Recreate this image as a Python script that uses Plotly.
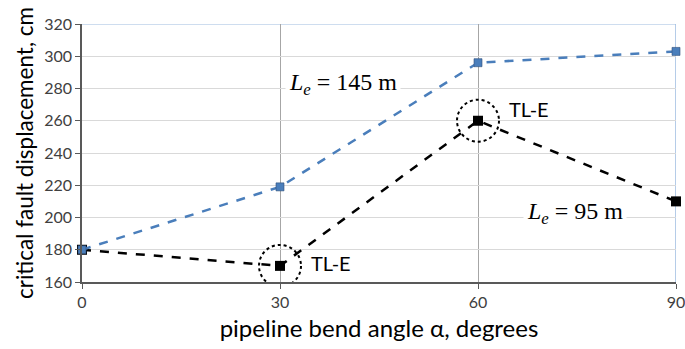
import plotly.graph_objects as go

# Pipeline bend angle (degrees) and critical fault displacement (cm)
angles = [0, 30, 60, 90]
disp_le145 = [180, 219, 296, 303]
disp_le95 = [180, 170, 260, 210]

# Points whose failure mode is tension-limited (TL-E)
tle_angles = [30, 60]
tle_disp = [170, 260]

y_ticks = [160, 180, 200, 220, 240, 260, 280, 300, 320]
x_ticks = [0, 30, 60, 90]

sans = "Lato, 'Liberation Sans', sans-serif"
serif = "'Liberation Serif', 'Times New Roman', serif"

fig = go.Figure()

fig.add_trace(go.Scatter(
    x=angles, y=disp_le95, mode="lines+markers",
    line=dict(color="black", width=2.5, dash="dash"),
    marker=dict(symbol="square", size=10, color="black"),
    cliponaxis=False, showlegend=False,
))
fig.add_trace(go.Scatter(
    x=angles, y=disp_le145, mode="lines+markers",
    line=dict(color="#4a7ebb", width=2.5, dash="dash"),
    marker=dict(symbol="square", size=8, color="#4a7ebb",
                line=dict(color="#2f4f7a", width=0.6)),
    cliponaxis=False, showlegend=False,
))

# Dotted circles around TL-E points
for xa, ya in zip(tle_angles, tle_disp):
    fig.add_shape(type="circle", xref="x", yref="y",
                  xsizemode="pixel", ysizemode="pixel",
                  xanchor=xa, yanchor=ya,
                  x0=-21, x1=21, y0=-21, y1=21,
                  line=dict(color="black", width=2, dash="dot"))
    fig.add_annotation(x=xa, y=ya, text="TL-E", showarrow=False,
                       xanchor="left", yanchor="middle", xshift=29,
                       yshift=12 if xa == 60 else 3,
                       font=dict(family=sans, size=20, color="black"))

# Series labels
fig.add_annotation(x=39.5, y=283, text="<i>L</i><sub><i>e</i></sub> = 145 m",
                   showarrow=False, xanchor="center", yanchor="middle",
                   bgcolor="white", borderpad=3,
                   font=dict(family=serif, size=24, color="black"))
fig.add_annotation(x=74.7, y=203, text="<i>L</i><sub><i>e</i></sub> = 95 m",
                   showarrow=False, xanchor="center", yanchor="middle",
                   bgcolor="white", borderpad=3,
                   font=dict(family=serif, size=24, color="black"))

# Light blue chart border on top and right
fig.add_shape(type="line", xref="paper", yref="y", x0=0, x1=1, y0=320, y1=320,
              line=dict(color="#9dbbe0", width=1), layer="below")
fig.add_shape(type="line", xref="x", yref="paper", x0=90, x1=90, y0=0, y1=1,
              line=dict(color="#9dbbe0", width=1.5), layer="below")

fig.update_layout(
    width=685, height=349,
    margin=dict(l=82, r=9, t=24, b=67),
    paper_bgcolor="white", plot_bgcolor="white",
    font=dict(family=sans, color="#262626"),
    xaxis=dict(
        range=[0, 90], tickvals=x_ticks, ticks="outside", ticklen=5,
        tickcolor="#595959", showline=True, linecolor="#595959", linewidth=1.5,
        showgrid=True, gridcolor="#a6a6a6", gridwidth=1, zeroline=False,
        tickfont=dict(size=16, color="#404040"), automargin=False,
        ticklabeloverflow="allow",
        title=dict(text="pipeline bend angle α, degrees",
                   font=dict(size=24, color="black"), standoff=10),
    ),
    yaxis=dict(
        range=[160, 320], tickvals=y_ticks, ticks="outside", ticklen=5,
        tickcolor="#595959", showline=True, linecolor="#595959", linewidth=1.5,
        showgrid=True, gridcolor="#d9d9d9", gridwidth=1, zeroline=False,
        tickfont=dict(size=16, color="#404040"), automargin=False,
        title=dict(text="critical fault displacement, cm",
                   font=dict(size=22.5, color="black"), standoff=4),
    ),
)

fig.write_html("out.html")
